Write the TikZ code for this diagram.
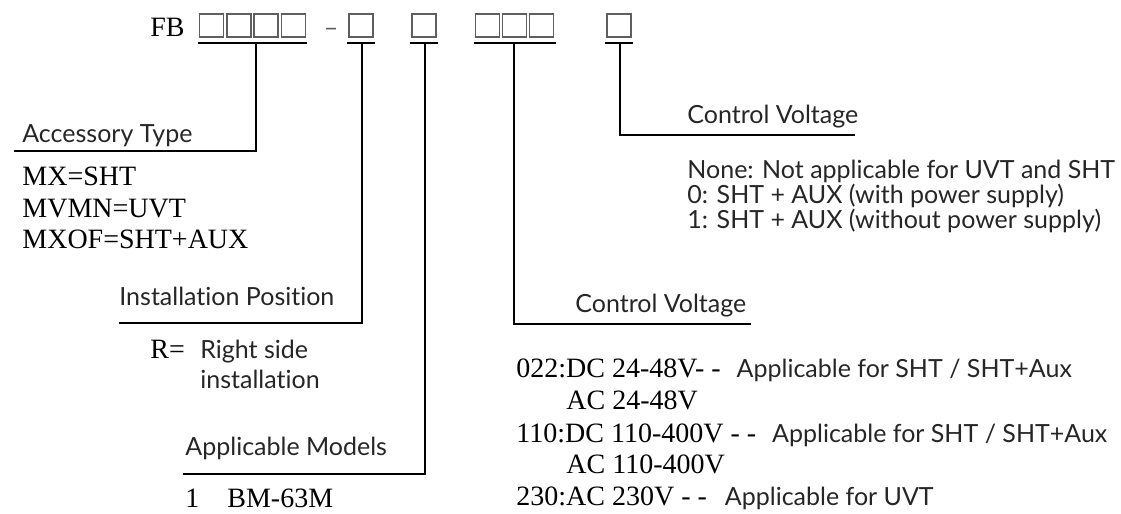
\documentclass[tikz,border=0pt]{standalone}
\usepackage{fontspec}
\newfontfamily\latofont{Lato}[Ligatures={NoCommon,NoRare,NoDiscretionary}]
\newfontfamily\timesfont{Liberation Serif}
\definecolor{cellgray}{RGB}{95,95,95}
\definecolor{txtdark}{RGB}{38,38,38}
\newcommand\sanspart[1]{{\latofont\fontsize{12.5}{15}\selectfont\color{txtdark}#1}}
\usetikzlibrary{calc}

\begin{document}
\begin{tikzpicture}[x=0.5pt, y=-0.5pt,
  cell/.style={draw=cellgray, line width=0.8pt, minimum width=12pt, minimum height=11.5pt, inner sep=0pt, outer sep=0pt},
  sans/.style={anchor=base west, inner sep=0pt, text=txtdark, font=\latofont\fontsize{12.5}{15}\selectfont},
  serif/.style={anchor=base west, inner sep=0pt, text=black, font=\timesfont\fontsize{14}{16}\selectfont},
  uline/.style={line width=1.3pt},
  lead/.style={line width=1pt}
]
  \useasboundingbox (0,0) rectangle (1121,514);

  %% Order code
  \node[serif] (fb) at (150,37) {FB};
  \node[cell] (a1) at (211.5,25.5) {};
  \node[cell] (a2) at (238.8,25.5) {};
  \node[cell] (a3) at (266,25.5) {};
  \node[cell] (a4) at (293.3,25.5) {};
  \node[inner sep=0pt, text=cellgray, font=\latofont\fontsize{12.5}{15}\selectfont] (dash) at (331,32) {\textendash};
  \node[cell] (p) at (361,25.5) {};
  \node[cell] (m) at (424,25.5) {};
  \node[cell] (v1) at (487.5,25.5) {};
  \node[cell] (v2) at (514.5,25.5) {};
  \node[cell] (v3) at (541.5,25.5) {};
  \node[cell] (c) at (619,25.5) {};

  %% Underlines
  \draw[uline] ([shift={(-2,6)}]a1.south west) -- ([shift={(2,6)}]a4.south east);
  \draw[uline] ([shift={(-2,6)}]p.south west) -- ([shift={(2,6)}]p.south east);
  \draw[uline] ([shift={(-2,6)}]m.south west) -- ([shift={(2,6)}]m.south east);
  \draw[uline] ([shift={(-2,6)}]v1.south west) -- ([shift={(2,6)}]v3.south east);
  \draw[uline] ([shift={(-2,6)}]c.south west) -- ([shift={(2,6)}]c.south east);

  %% Leaders
  \coordinate (atap) at (256,43);  \coordinate (aend) at (14,151);
  \coordinate (ptap) at (362,43);  \coordinate (pend) at (119,323);
  \coordinate (mtap) at (425,43);  \coordinate (mend) at (183,474);
  \coordinate (vtap) at (514,43);  \coordinate (vend) at (751,324);
  \coordinate (ctap) at (620,43);  \coordinate (cend) at (855,135);
  \draw[lead] (atap) |- (aend);
  \draw[lead] (ptap) |- (pend);
  \draw[lead] (mtap) |- (mend);
  \draw[lead] (vtap) |- (vend);
  \draw[lead] (ctap) |- (cend);

  %% Accessory type
  \node[sans] (acc) at (22,142) {Accessory Type};
  \node[serif] (mx1) at (22,185) {MX=SHT};
  \node[serif] (mx2) at (22,217) {MVMN=UVT};
  \node[serif] (mx3) at (22,248) {MXOF=SHT+AUX};

  %% Installation position
  \node[sans] (ins) at (119,305) {Installation Position};
  \node[serif] (req) at (150,358) {R=};
  \node[sans] (rs1) at (200,358) {Right side};
  \node[sans] (rs2) at (200,388) {installation};

  %% Applicable models
  \node[sans] (app) at (185,455) {Applicable Models};
  \node[serif] (bm) at (185,507) {1\quad BM-63M};

  %% Control voltage (middle)
  \node[sans] (cv1) at (575,312) {Control Voltage};
  \node[serif] (d022) at (516,377) {022:DC 24-48V- -\hspace{8pt}\sanspart{Applicable for SHT / SHT+Aux}};
  \node[serif] (a022) at (566,409) {AC 24-48V};
  \node[serif] (d110) at (516,442) {110:DC 110-400V - -\hspace{8pt}\sanspart{Applicable for SHT / SHT+Aux}};
  \node[serif] (a110) at (566,473) {AC 110-400V};
  \node[serif] (a230) at (516,505) {230:AC 230V - -\hspace{9pt}\sanspart{Applicable for UVT}};

  %% Control voltage (right)
  \node[sans] (cv2) at (687,123) {Control Voltage};
  \node[sans] (cn) at (687,178) {None: Not applicable for UVT and SHT};
  \node[sans] (c0) at (687,203) {0: SHT + AUX (with power supply)};
  \node[sans] (c1) at (687,228) {1: SHT + AUX (without power supply)};
\end{tikzpicture}
\end{document}
